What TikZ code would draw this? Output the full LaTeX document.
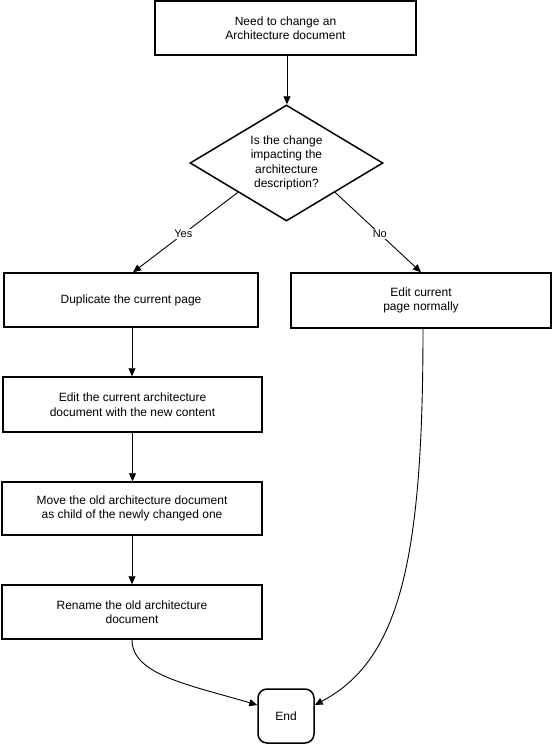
\documentclass[tikz,border=0pt]{standalone}
\usepackage{fontspec}
\setmainfont{Liberation Sans}
\usetikzlibrary{shapes.geometric,arrows.meta}
\begin{document}
\begin{tikzpicture}[x=1pt,y=-1pt,
  every node/.style={font=\fontsize{12}{14.5}\selectfont, align=center},
  box/.style={draw, line width=1.5pt, inner sep=0pt},
  dec/.style={draw, diamond, aspect=1.664, line width=1.5pt, inner sep=0pt, minimum width=193pt, minimum height=116pt},
  term/.style={draw, line width=1.5pt, rounded corners=9pt, inner sep=0pt, minimum width=56pt, minimum height=54pt},
  arr/.style={line width=0.9pt, -{Triangle[length=8pt,width=7pt]}},
  lbl/.style={fill=white, inner sep=1pt, font=\fontsize{11}{13}\selectfont}]
\useasboundingbox (0,0) rectangle (552,744);
\node[box, minimum width=261pt, minimum height=54pt] (start) at (285.5,28) {Need to change an\\Architecture document};
\node[dec] (q) at (286.5,163) {Is the change\\impacting the\\architecture\\description?};
\node[box, minimum width=254pt, minimum height=54pt] (dup) at (131,300) {Duplicate the current page};
\node[box, minimum width=260pt, minimum height=55pt] (editn) at (421,300.5) {Edit current\\page normally};
\node[box, minimum width=259pt, minimum height=55pt] (editc) at (132.5,404.5) {Edit the current architecture\\document with the new content};
\node[box, minimum width=260pt, minimum height=53pt] (move) at (132,508.5) {Move the old architecture document\\as child of the newly changed one};
\node[box, minimum width=260pt, minimum height=54pt] (ren) at (132,612) {Rename the old architecture\\document};
\node[term] (end) at (286,716) {End};
\draw[arr] ([xshift=1.5pt]start.south) -- ([xshift=0.5pt]q.north);
\draw[arr] (q.south west) -- node[lbl, pos=0.52] {Yes} ([xshift=2pt]dup.north);
\draw[arr] (q.south east) -- node[lbl, pos=0.52] {No} (editn.north);
\draw[arr] ([xshift=1pt]dup.south) -- ([xshift=1pt]dup.south |- editc.north);
\draw[arr] (editc.south) -- (editc.south |- move.north);
\draw[arr] (move.south) -- (move.south |- ren.north);
\draw[arr] (ren.south) .. controls (132,675) and (190,685) .. ([yshift=11pt]end.west);
\draw[arr] ([xshift=2pt]editn.south) .. controls (423,560) and (400,660) .. ([yshift=11pt]end.east);
\end{tikzpicture}
\end{document}
